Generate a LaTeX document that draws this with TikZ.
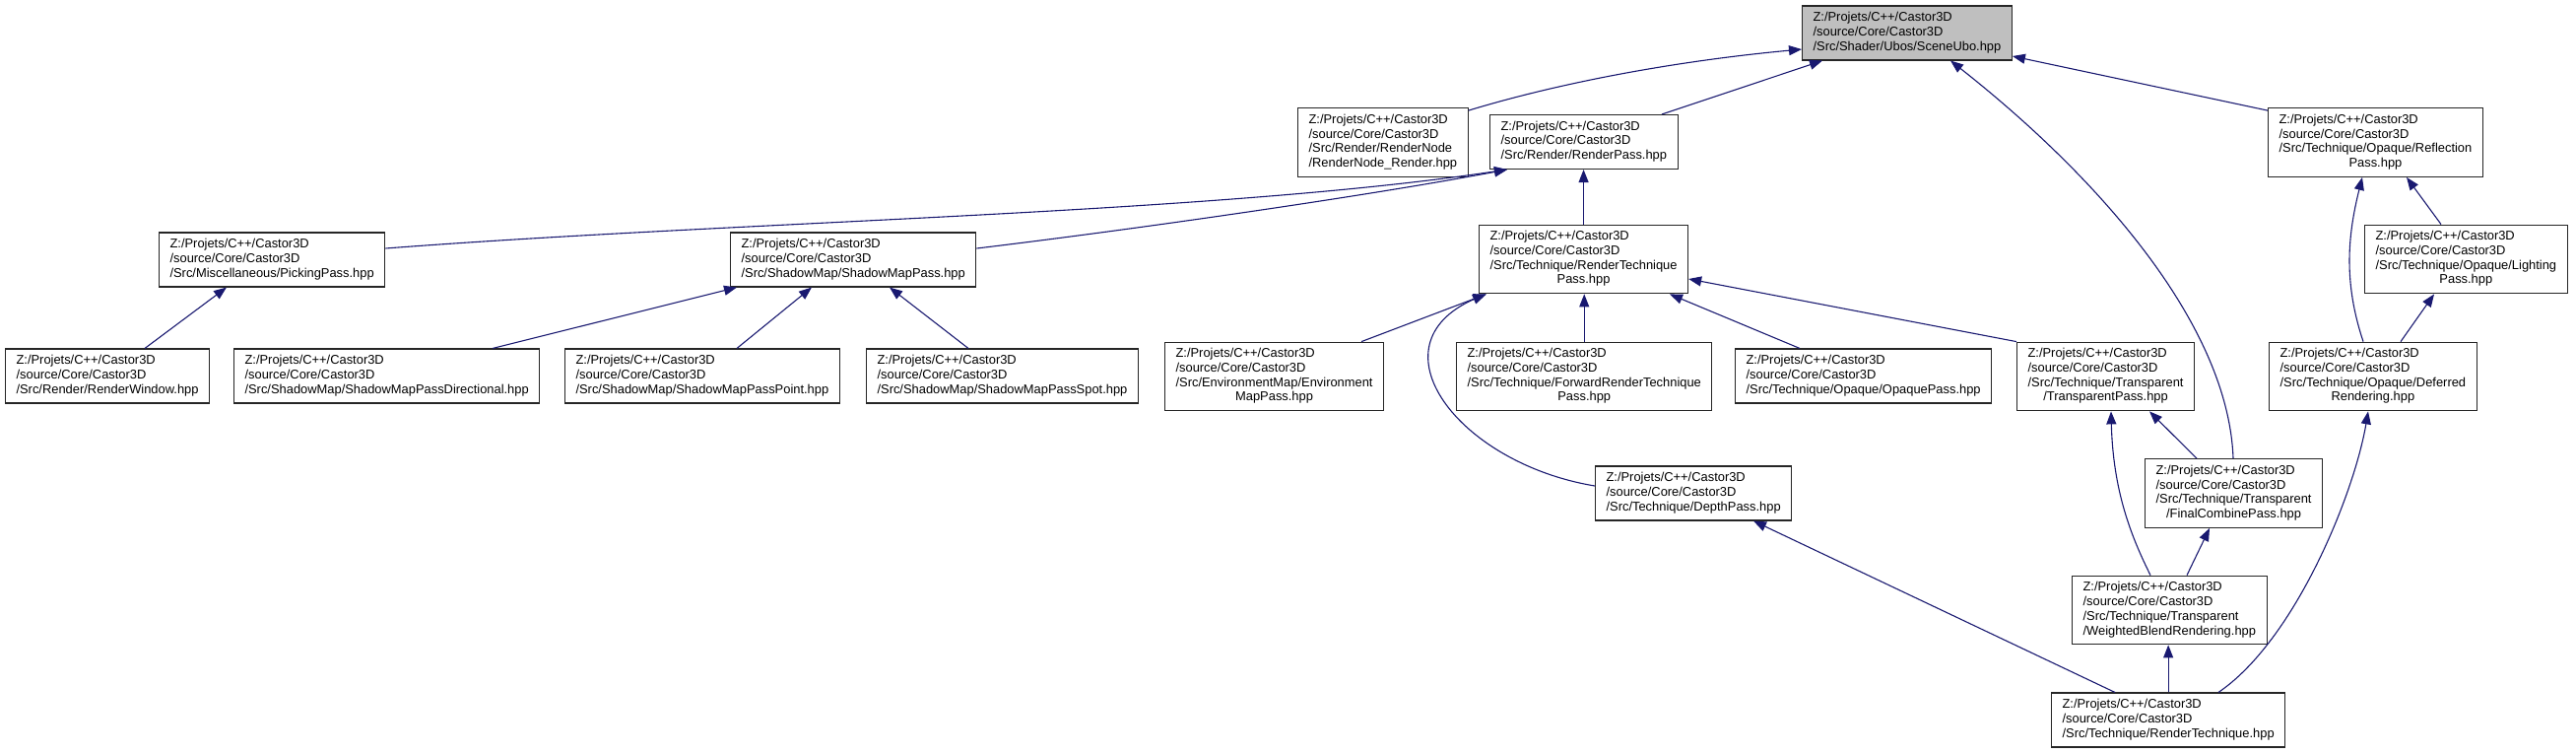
\documentclass[tikz,border=0pt]{standalone}
\usepackage{fontspec}
\setmainfont{Liberation Sans}
\usepackage{xcolor}
\usepackage{tikz}
\usetikzlibrary{arrows.meta}
\definecolor{doxyblue}{HTML}{191970}
\definecolor{doxygrey}{HTML}{BFBFBF}

\newcommand{\castor}{Z:/Projets/C++/Castor3D\\/source/Core/Castor3D}
\newcommand{\fpath}[1]{\begin{tabular}{@{}l@{}}\castor\\#1\end{tabular}}
\newcommand{\wrapline}[1]{\multicolumn{1}{@{}c@{}}{#1}}

\begin{document}
\begin{tikzpicture}[
    x=1pt, y=-1pt,
    header/.style={rectangle, draw=black!85, line width=1.1pt, fill=white,
                   anchor=west, inner xsep=11pt, inner ysep=5.45pt,
                   font=\fontsize{12.9}{14.7}\selectfont},
    current/.style={header, fill=doxygrey},
    inc/.style={-{Triangle[length=13pt, width=10pt]}, draw=doxyblue, line width=1.1pt},
]
    \useasboundingbox (0,0) rectangle (2615,764);

    \node[current] (ubo) at (1829,33.5) {\fpath{/Src/Shader/Ubos/SceneUbo.hpp}};

    \node[header] (rn) at (1317,144.5) {\fpath{/Src/Render/RenderNode\\\wrapline{/RenderNode\_Render.hpp}}};
    \node[header] (rp) at (1512,144) {\fpath{/Src/Render/RenderPass.hpp}};
    \node[header] (refl) at (2302,144.5) {\fpath{/Src/Technique/Opaque/Reflection\\\wrapline{Pass.hpp}}};

    \node[header] (pick) at (161,263.5) {\fpath{/Src/Miscellaneous/PickingPass.hpp}};
    \node[header] (smp) at (741,263.5) {\fpath{/Src/ShadowMap/ShadowMapPass.hpp}};
    \node[header] (rtp) at (1501,263) {\fpath{/Src/Technique/RenderTechnique\\\wrapline{Pass.hpp}}};
    \node[header] (light) at (2400,263) {\fpath{/Src/Technique/Opaque/Lighting\\\wrapline{Pass.hpp}}};

    \node[header] (rwin) at (5,381.5) {\fpath{/Src/Render/RenderWindow.hpp}};
    \node[header] (smpd) at (237,381.5) {\fpath{/Src/ShadowMap/ShadowMapPassDirectional.hpp}};
    \node[header] (smpp) at (573,381.5) {\fpath{/Src/ShadowMap/ShadowMapPassPoint.hpp}};
    \node[header] (smps) at (879,381.5) {\fpath{/Src/ShadowMap/ShadowMapPassSpot.hpp}};
    \node[header] (env) at (1182,382) {\fpath{/Src/EnvironmentMap/Environment\\\wrapline{MapPass.hpp}}};
    \node[header] (fwd) at (1478,382) {\fpath{/Src/Technique/ForwardRenderTechnique\\\wrapline{Pass.hpp}}};
    \node[header] (opq) at (1761,381.5) {\fpath{/Src/Technique/Opaque/OpaquePass.hpp}};
    \node[header] (trp) at (2047,382) {\fpath{/Src/Technique/Transparent\\\wrapline{/TransparentPass.hpp}}};
    \node[header] (defr) at (2303,382) {\fpath{/Src/Technique/Opaque/Deferred\\\wrapline{Rendering.hpp}}};

    \node[header] (depth) at (1619,500.5) {\fpath{/Src/Technique/DepthPass.hpp}};
    \node[header] (fcomb) at (2177,500.5) {\fpath{/Src/Technique/Transparent\\\wrapline{/FinalCombinePass.hpp}}};
    \node[header] (wbr) at (2103,619) {\fpath{/Src/Technique/Transparent\\\wrapline{/WeightedBlendRendering.hpp}}};
    \node[header] (rtech) at (2082,730.5) {\fpath{/Src/Technique/RenderTechnique.hpp}};

    \draw[inc] ([yshift=-3pt]rn.north east) .. controls +(92,-28) and +(-129,12) .. ([yshift=-16.5pt]ubo.west);
    \draw[inc] ([xshift=175pt]rp.north west) -- ([xshift=21pt]ubo.south west);
    \draw[inc] ([yshift=-3pt]refl.north west) -- ([yshift=-23.5pt]ubo.east);
    \draw[inc] ([xshift=90pt]fcomb.north west) .. controls +(-5,-136) and +(150,118) .. ([xshift=151pt]ubo.south west);

    \draw[inc] ([yshift=11.5pt]pick.east) .. controls +(365,-28) and +(-300,45) .. ([xshift=18pt]rp.south west);
    \draw[inc] ([yshift=11.5pt]smp.east) .. controls +(158,-19) and +(-150,28) .. ([xshift=18pt]rp.south west);
    \draw[inc] (rtp.north) -- (rtp.north |- rp.south);

    \draw[inc] ([xshift=142pt]rwin.north west) -- ([xshift=69pt]pick.south west);
    \draw[inc] ([xshift=263pt]smpd.north west) -- ([xshift=7pt]smp.south west);
    \draw[inc] ([xshift=175pt]smpp.north west) -- ([xshift=83pt]smp.south west);
    \draw[inc] ([xshift=104pt]smps.north west) -- ([xshift=162pt]smp.south west);

    \draw[inc] ([xshift=200pt]env.north west) -- ([xshift=8pt]rtp.south west);
    \draw[inc] (fwd.north) -- (fwd.north |- rtp.south);
    \draw[inc] ([xshift=66pt]opq.north west) -- ([xshift=194pt]rtp.south west);
    \draw[inc] (trp.north west) -- ([yshift=-20pt]rtp.east);
    \draw[inc] ([yshift=7.5pt]depth.west) .. controls +(-139,-23) and +(-118,52) .. ([xshift=7pt]rtp.south west);

    \draw[inc] ([xshift=78pt]light.north west) -- ([xshift=141pt]refl.south west);
    \draw[inc] ([xshift=96pt]defr.north west) .. controls +(-20,-60) and +(-15,60) .. ([xshift=96pt]refl.south west);
    \draw[inc] ([xshift=134pt]defr.north west) -- ([xshift=71pt]light.south west);

    \draw[inc] ([xshift=53pt]fcomb.north west) -- ([xshift=135pt]trp.south west);
    \draw[inc] ([xshift=80pt]wbr.north west) .. controls +(-20,-40) and +(2,80) .. ([xshift=96pt]trp.south west);
    \draw[inc] ([xshift=117pt]wbr.north west) -- ([xshift=66pt]fcomb.south west);

    \draw[inc] ([xshift=65pt]rtech.north west) -- ([xshift=161pt]depth.south west);
    \draw[inc] (rtech.north) -- (rtech.north |- wbr.south);
    \draw[inc] ([xshift=170pt]rtech.north west) .. controls +(78,-53) and +(-14,83) .. ([xshift=101pt]defr.south west);
\end{tikzpicture}
\end{document}
